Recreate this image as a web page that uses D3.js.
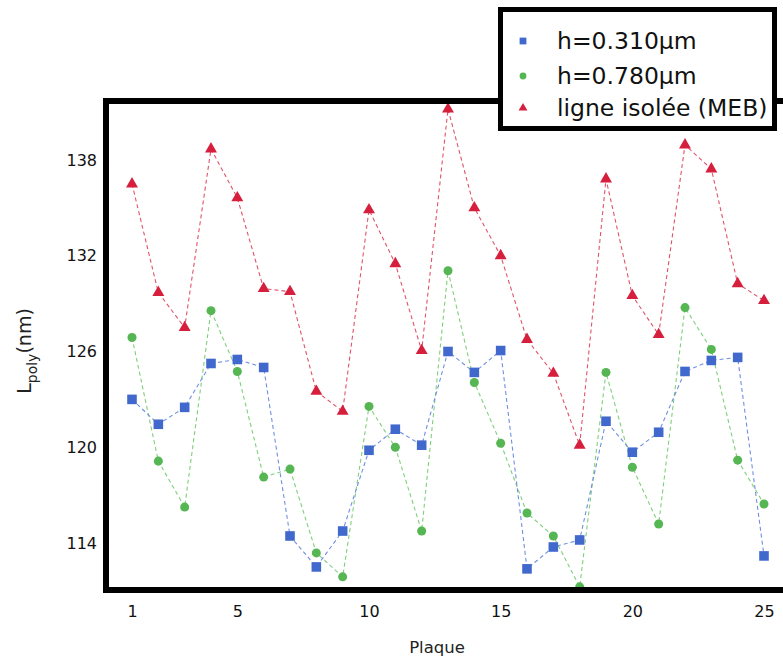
<!DOCTYPE html>
<html>
<head>
<meta charset="utf-8">
<script src="https://cdn.jsdelivr.net/npm/d3@7"></script>
<style>
  html, body { margin: 0; padding: 0; background: #fff; }
  svg { display: block; }
</style>
</head>
<body>
<svg id="chart" width="783" height="657"></svg>
<script>
const plaques = d3.range(1, 26);
const seriesNames = ["h=0.310µm", "h=0.780µm", "ligne isolée (MEB)"];
const blueValues = [123.0, 121.44, 122.5, 125.25, 125.5, 125.0, 114.44, 112.5, 114.75, 119.81,
  121.13, 120.13, 126.0, 124.69, 126.06, 112.38, 113.75, 114.19, 121.63, 119.69,
  120.94, 124.75, 125.44, 125.63, 113.19];
const greenValues = [126.88, 119.13, 116.25, 128.56, 124.75, 118.13, 118.63, 113.38, 111.88, 122.56,
  120.0, 114.75, 131.06, 124.06, 120.25, 115.88, 114.44, 111.25, 124.69, 118.75,
  115.19, 128.75, 126.13, 119.19, 116.44];
const redValues = [136.5, 129.69, 127.5, 138.69, 135.63, 129.94, 129.75, 123.5, 122.25, 134.88,
  131.5, 126.06, 141.19, 135.0, 132.0, 126.75, 124.63, 120.13, 136.81, 129.5,
  127.06, 138.94, 137.44, 130.25, 129.19];
const yTicks = [114, 120, 126, 132, 138];
const xTicks = [1, 5, 10, 15, 20, 25];

const colors = ["#4168cc", "#55b653", "#d61f3d"];
const lineColors = ["#6f8fe0", "#7fcf7a", "#e0536a"];
const shapes = [d3.symbolSquare, d3.symbolCircle, d3.symbolTriangle];
const sizes = [92, 64, 62];
const legendSizes = [46, 36, 34];

const svg = d3.select("#chart");
const font = "'DejaVu Sans', Verdana, sans-serif";

const x = d3.scaleLinear().domain([1, 25]).range([132, 764]);
const y = d3.scaleLinear().domain([114, 138]).range([543, 160]);

const frame = { left: 106, top: 101, bottom: 590 };

const series = [blueValues, greenValues, redValues].map((vals, i) => ({
  name: seriesNames[i],
  values: vals.map((v, j) => ({ p: plaques[j], v }))
}));

const line = d3.line().x(d => x(d.p)).y(d => y(d.v));
const order = [2, 1, 0];
order.forEach(i => {
  svg.append("path")
    .datum(series[i].values)
    .attr("d", line)
    .attr("fill", "none")
    .attr("stroke", lineColors[i])
    .attr("stroke-width", 1.1)
    .attr("stroke-dasharray", "4,3");
});
order.forEach(i => {
  svg.append("g").selectAll("path")
    .data(series[i].values)
    .join("path")
    .attr("transform", d => `translate(${x(d.p)},${y(d.v)})`)
    .attr("d", d3.symbol().type(shapes[i]).size(sizes[i]))
    .attr("fill", colors[i]);
});

// frame (drawn over the points)
svg.append("rect")
  .attr("x", frame.left)
  .attr("y", frame.top)
  .attr("width", 760)
  .attr("height", frame.bottom - frame.top)
  .attr("fill", "none")
  .attr("stroke", "#000")
  .attr("stroke-width", 6);

// y axis
const yAxis = svg.append("g")
  .attr("transform", `translate(${frame.left},0)`)
  .call(d3.axisLeft(y).tickValues(yTicks).tickSize(0).tickPadding(9).tickFormat(d3.format("d")));
yAxis.select(".domain").remove();
yAxis.selectAll("text").attr("font-family", font).attr("font-size", 16).attr("fill", "#111");

// x axis
const xAxis = svg.append("g")
  .attr("transform", `translate(0,${frame.bottom})`)
  .call(d3.axisBottom(x).tickValues(xTicks).tickSize(0).tickPadding(16).tickFormat(d3.format("d")));
xAxis.select(".domain").remove();
xAxis.selectAll("text").attr("font-family", font).attr("font-size", 16).attr("fill", "#111");

// axis titles
svg.append("text")
  .attr("x", 437).attr("y", 653)
  .attr("text-anchor", "middle")
  .attr("font-family", font).attr("font-size", 16.5).attr("fill", "#222")
  .text("Plaque");

const yt = svg.append("text")
  .attr("transform", "translate(31,351) rotate(-90)")
  .attr("text-anchor", "middle")
  .attr("font-family", font).attr("font-size", 19).attr("fill", "#222");
yt.append("tspan").text("L");
yt.append("tspan").attr("dy", 6).attr("font-size", 14).text("poly");
yt.append("tspan").attr("dy", -6).text("(nm)");

// legend
const lg = svg.append("g");
lg.append("rect")
  .attr("x", 500.5).attr("y", 9.5).attr("width", 274).attr("height", 119)
  .attr("fill", "#fff").attr("stroke", "#000").attr("stroke-width", 5);
const rowsY = [41, 76, 108];
seriesNames.forEach((name, i) => {
  lg.append("path")
    .attr("transform", `translate(523,${rowsY[i]})`)
    .attr("d", d3.symbol().type(shapes[i]).size(legendSizes[i]))
    .attr("fill", colors[i]);
  lg.append("text")
    .attr("x", 557).attr("y", rowsY[i])
    .attr("dy", "0.36em")
    .attr("font-family", font).attr("font-size", 23.5).attr("fill", "#111")
    .text(name);
});
</script>
</body>
</html>
